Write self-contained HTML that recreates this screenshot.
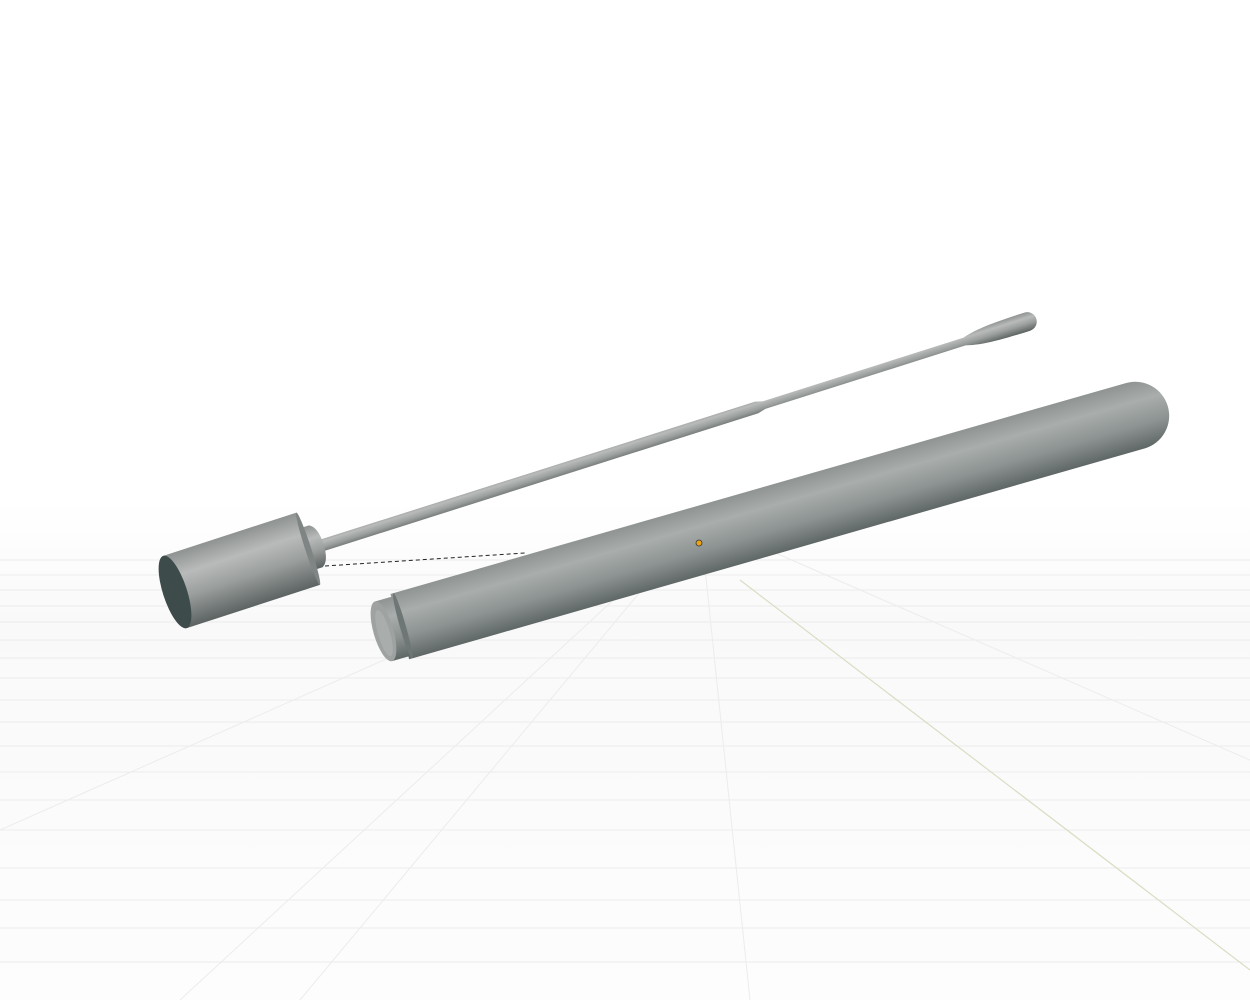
<!DOCTYPE html>
<html><head><meta charset="utf-8"><style>html,body{margin:0;padding:0;background:#fff}svg{display:block}</style></head>
<body>
<svg width="1250" height="1000" viewBox="0 0 1250 1000" xmlns="http://www.w3.org/2000/svg">
<defs>
<linearGradient id="bg" x1="0" y1="0" x2="0" y2="1">
<stop offset="0" stop-color="#fff"/><stop offset="0.5" stop-color="#fff"/><stop offset="0.62" stop-color="#f9f9f9"/><stop offset="1" stop-color="#fdfdfd"/></linearGradient>
<linearGradient id="cyl" x1="0" y1="0" x2="0" y2="1">
<stop offset="0" stop-color="#8e9291"/><stop offset="0.3" stop-color="#b9bbbb"/><stop offset="0.6" stop-color="#9a9e9d"/><stop offset="1" stop-color="#5c6362"/></linearGradient>
<linearGradient id="tube" x1="0" y1="0" x2="0" y2="1">
<stop offset="0" stop-color="#8f9493"/><stop offset="0.3" stop-color="#a9aeac"/><stop offset="0.65" stop-color="#8d9392"/><stop offset="1" stop-color="#5f6766"/></linearGradient>
</defs>
<rect width="1250" height="1000" fill="url(#bg)"/>
<g stroke="#ececec" stroke-width="1" fill="none">
<line x1="0" y1="560" x2="1250" y2="560"/><line x1="0" y1="575" x2="1250" y2="575"/>
<line x1="0" y1="590" x2="1250" y2="590"/><line x1="0" y1="606" x2="1250" y2="606"/>
<line x1="0" y1="622" x2="1250" y2="622"/><line x1="0" y1="640" x2="1250" y2="640"/>
<line x1="0" y1="658" x2="1250" y2="658"/><line x1="0" y1="678" x2="1250" y2="678"/>
<line x1="0" y1="700" x2="1250" y2="700"/><line x1="0" y1="722" x2="1250" y2="722"/>
<line x1="0" y1="746" x2="1250" y2="746"/><line x1="0" y1="772" x2="1250" y2="772"/>
<line x1="0" y1="800" x2="1250" y2="800"/><line x1="0" y1="830" x2="1250" y2="830"/>
<line x1="0" y1="868" x2="1250" y2="868"/><line x1="0" y1="900" x2="1250" y2="900"/>
<line x1="0" y1="928" x2="1250" y2="928"/><line x1="0" y1="962" x2="1250" y2="962"/>
<line x1="700" y1="520" x2="180" y2="1000"/><line x1="700" y1="520" x2="0" y2="830"/>
<line x1="700" y1="520" x2="750" y2="1000"/><line x1="700" y1="520" x2="300" y2="1000"/>
<line x1="700" y1="520" x2="1250" y2="760"/>
</g>
<line x1="740" y1="580" x2="1250" y2="970" stroke="#dcdcc4" stroke-width="1.2"/>
<!-- rod -->
<g transform="translate(320,546) rotate(-17.6)">
<path d="M0,-6 L458,-6 L466,-4 L676,-4 C690,-8 705,-9.5 742,-9.5 A9.5,9.5 0 0 1 742,9.5 C705,9.5 690,8 676,4 L466,4 L458,6 L0,6 Z" fill="url(#cyl)"/>
</g>
<!-- cap -->
<g transform="translate(175,592) rotate(-18)">
<path d="M136,-22 L148,-22 Q156,-18 156,0 Q156,18 148,22 L136,22 Z" fill="url(#cyl)"/>
<rect x="0" y="-38" width="140" height="76" fill="url(#cyl)"/>
<ellipse cx="140" cy="0" rx="3" ry="38" fill="#7f8584"/>
<ellipse cx="0" cy="0" rx="12" ry="38" fill="#3d4b4b"/>
</g>
<!-- tube -->
<g transform="translate(395,628) rotate(-16)">
<path d="M5,-34 L770,-34 A34,34 0 0 1 770,34 L5,34 Z" fill="url(#tube)"/>
<rect x="-12" y="-31" width="20" height="62" fill="url(#tube)"/>
<ellipse cx="8" cy="0" rx="3" ry="34" fill="#6f7776"/>
<ellipse cx="-12" cy="0" rx="10" ry="31" fill="#9ea3a2"/>
<ellipse cx="-12" cy="2" rx="6" ry="24" fill="#a9aeac"/>
</g>
<line x1="325" y1="566" x2="525" y2="553" stroke="#222" stroke-width="1" stroke-dasharray="4,3"/>
<circle cx="699" cy="543" r="3" fill="#e8a317" stroke="#333" stroke-width="0.8"/>
</svg>
</body></html>
